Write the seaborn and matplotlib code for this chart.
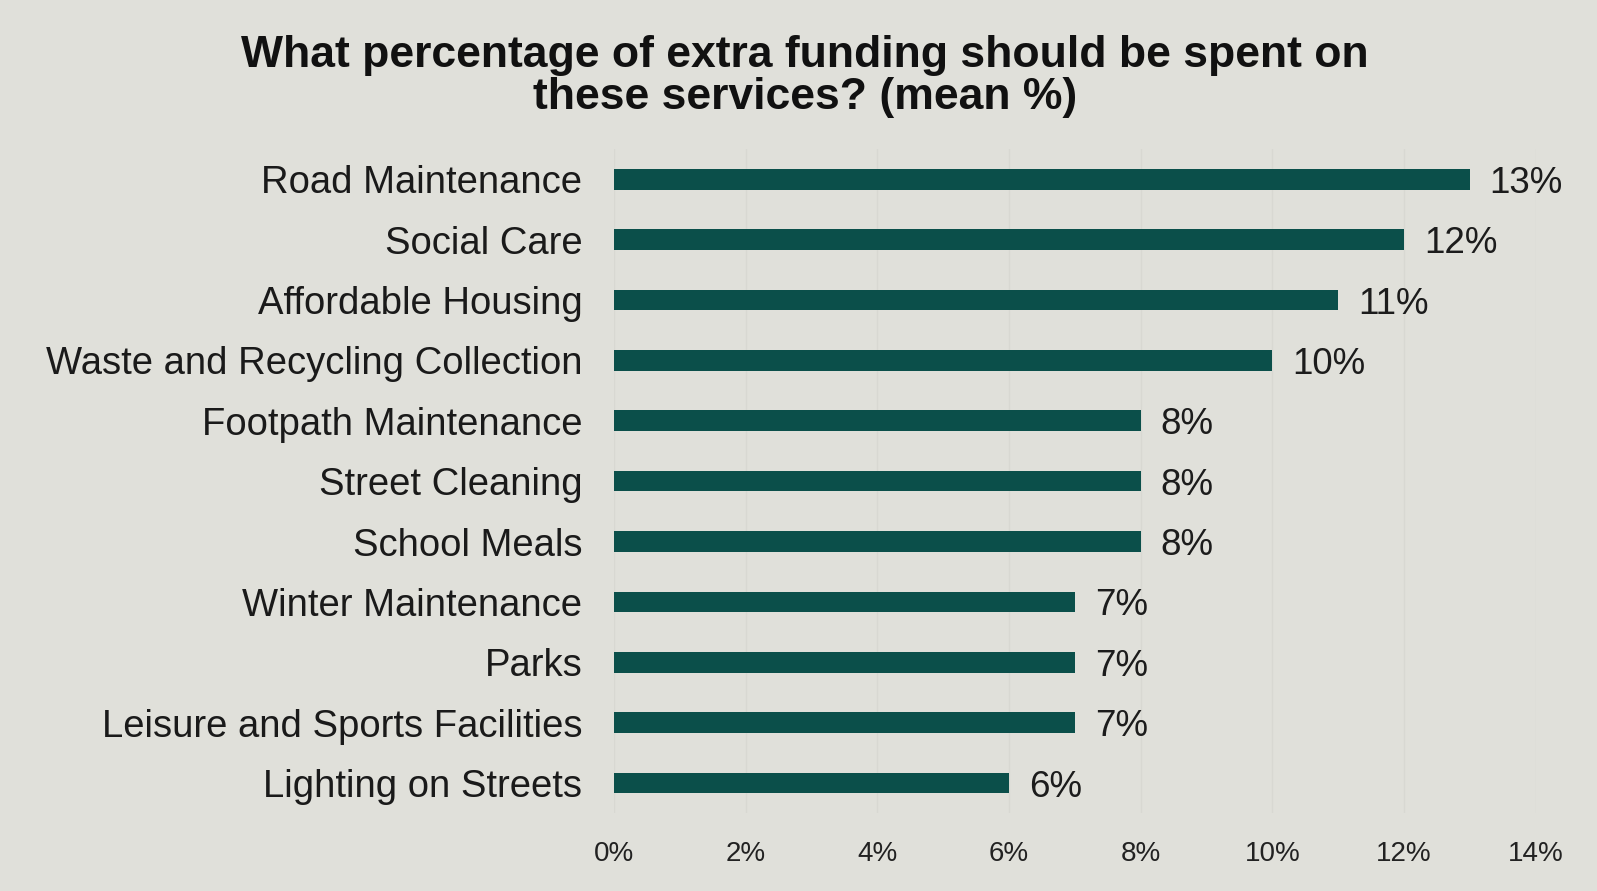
import matplotlib
matplotlib.use("Agg")
import matplotlib.pyplot as plt
import seaborn as sns
import pandas as pd

services = ['Road Maintenance', 'Social Care', 'Affordable Housing',
            'Waste and Recycling Collection', 'Footpath Maintenance',
            'Street Cleaning', 'School Meals', 'Winter Maintenance', 'Parks',
            'Leisure and Sports Facilities', 'Lighting on Streets']
mean_pct = [13, 12, 11, 10, 8, 8, 8, 7, 7, 7, 6]
xticks = [0, 2, 4, 6, 8, 10, 12, 14]

df = pd.DataFrame({'service': services, 'pct': mean_pct})

bg = '#e0e0da'
sns.set_style('white')
plt.rcParams['font.family'] = ['Liberation Sans', 'DejaVu Sans']

fig = plt.figure(figsize=(15.97, 8.91), dpi=100, facecolor=bg)
ax = fig.add_axes([0.3846, 0.0873, 0.577, 0.7454])
ax.set_facecolor(bg)

sns.barplot(data=df, y='service', x='pct', color='#0b4f4a', width=0.34,
            saturation=1, linewidth=0, edgecolor='none', ax=ax)

# value labels to the right of each bar
for i, v in enumerate(mean_pct):
    ax.text(v + 0.3, i, f'{v}%', va='center_baseline', ha='left', fontsize=26.5,
            color='#1c1c1c')

ax.set_xlim(0, 14)
ax.set_ylim(10.5, -0.5)
ax.set_xticks(xticks)
ax.set_xticklabels([f'{t}%' for t in xticks], fontsize=20, color='#222222',
                   family=['Liberation Sans Narrow', 'Liberation Sans'])
ax.tick_params(axis='x', length=0, pad=20)
ax.tick_params(axis='y', length=0, pad=23, labelsize=27.5, labelcolor='#1a1a1a')
ax.xaxis.grid(True, color='#d8d8d2', linewidth=1)
ax.set_axisbelow(True)
for s in ax.spines.values():
    s.set_visible(False)
ax.set_xlabel('')
ax.set_ylabel('')

fig.text(0.504, 0.9145, 'What percentage of extra funding should be spent on\nthese services? (mean %)',
         ha='center', va='center', fontsize=32, fontweight='bold', linespacing=1.03,
         color='#111111')

fig.savefig('out.png', dpi=100, facecolor=bg)
